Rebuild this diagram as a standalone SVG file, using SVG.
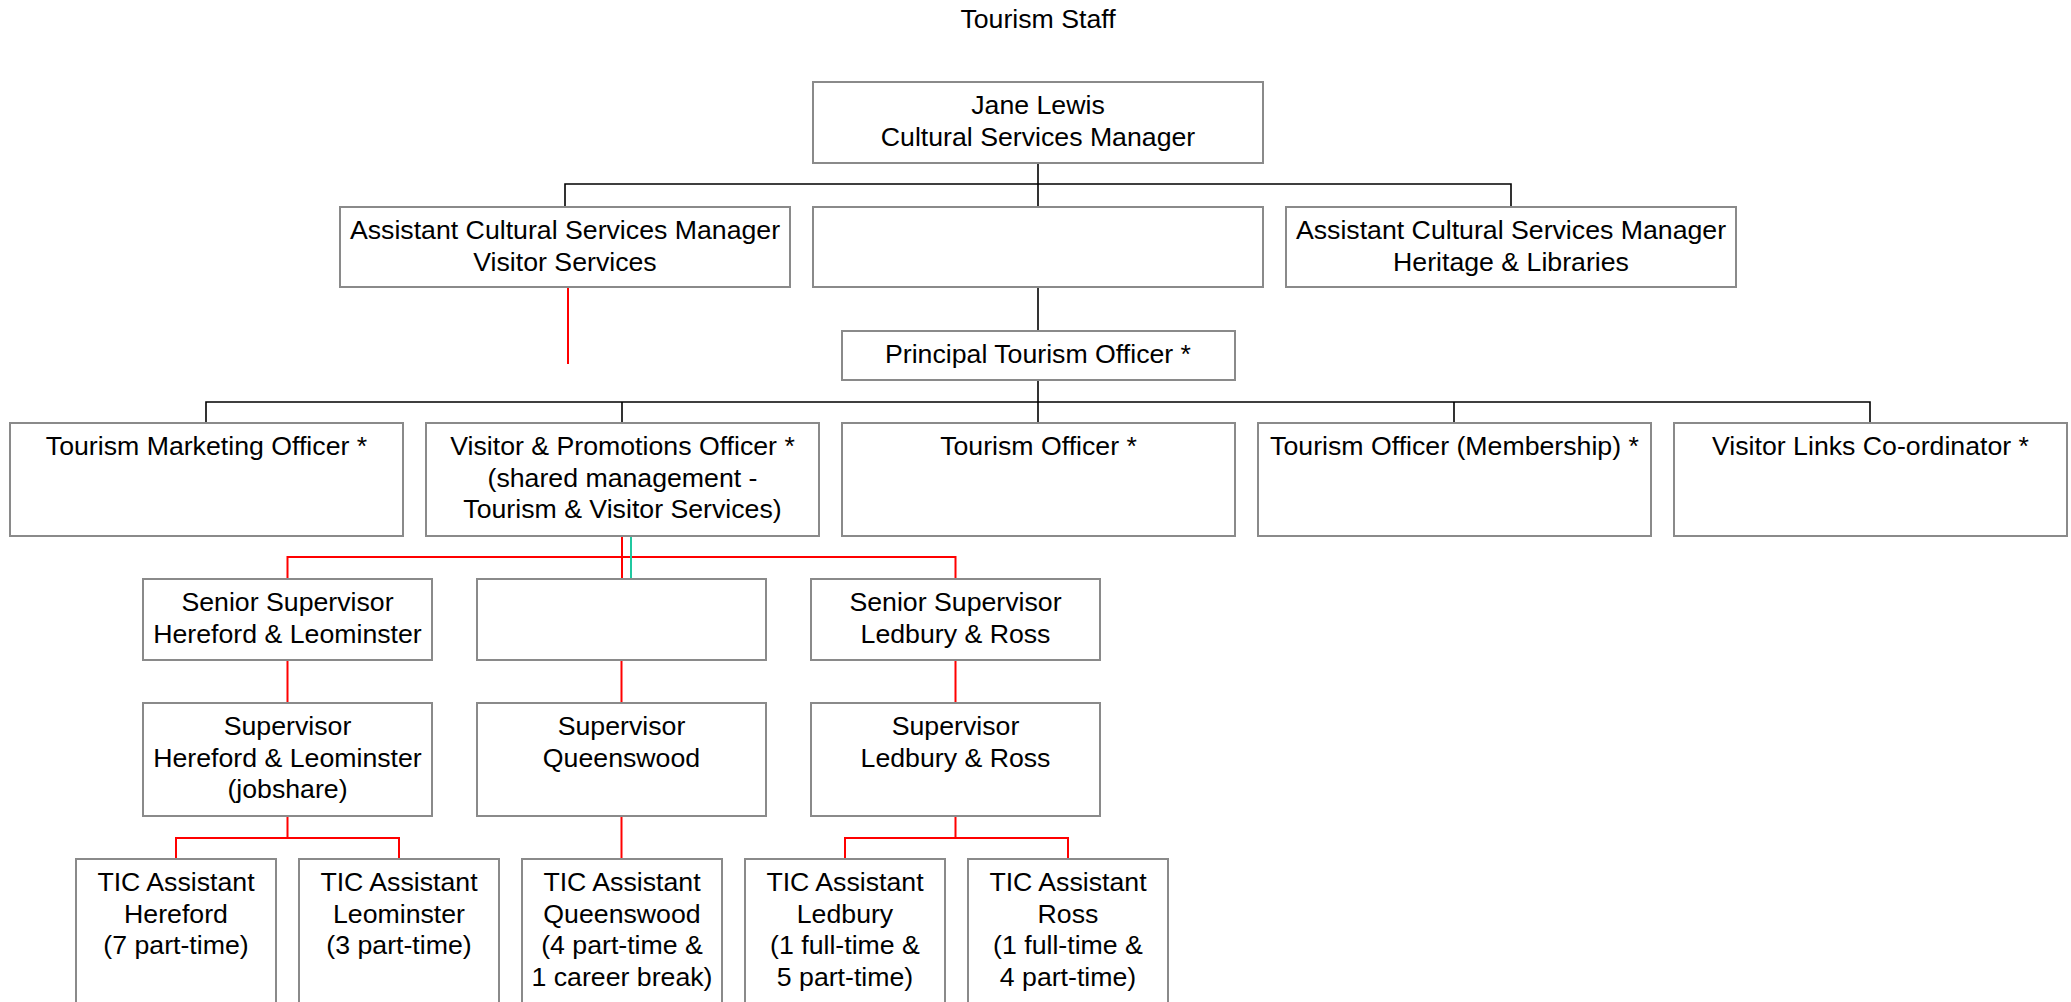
<svg xmlns="http://www.w3.org/2000/svg" width="2071" height="1002" viewBox="0 0 2071 1002">
<style>
.box{fill:#ffffff;stroke:#8a8a8a;stroke-width:2}
text{font-family:"Liberation Sans",Arial,sans-serif;font-size:26.7px;fill:#000000;text-anchor:middle}
.blk{stroke:#000000;stroke-width:1.6;fill:none}
.red{stroke:#ff0000;stroke-width:2;fill:none}
.teal{stroke:#20c8a0;stroke-width:2;fill:none}
</style>
<rect x="0" y="0" width="2071" height="1002" fill="#ffffff"/>
<text x="1038" y="28">Tourism Staff</text>
<g id="connectors">
<path class="blk" d="M1038,163 V184 M565,207 V184 H1511 V207 M1038,184 V207"/>
<path class="blk" d="M1038,287 V331"/>
<path class="blk" d="M1038,380 V402 M206,423 V402 H1870 V423 M622,402 V423 M1038,402 V423 M1454,402 V423"/>
<path class="red" d="M568,287 V364"/>
<path class="red" d="M622,536 V579 M287.5,579 V557 H955.5 V579"/>
<path class="teal" d="M631,536 V579"/>
<path class="red" d="M287.5,660 V703 M621.5,660 V703 M955.5,660 V703"/>
<path class="red" d="M287.5,816 V838 M176,859 V838 H399 V859"/>
<path class="red" d="M621.5,816 V859"/>
<path class="red" d="M955.5,816 V838 M845,859 V838 H1068 V859"/>
</g>
<g id="jane"><rect class="box" x="813" y="82" width="450" height="81"/><text x="1038" y="114">Jane Lewis</text><text x="1038" y="146">Cultural Services Manager</text></g>
<g id="acsm-visitor"><rect class="box" x="340" y="207" width="450" height="80"/><text x="565" y="239">Assistant Cultural Services Manager</text><text x="565" y="271">Visitor Services</text></g>
<g id="blank-mid"><rect class="box" x="813" y="207" width="450" height="80"/></g>
<g id="acsm-heritage"><rect class="box" x="1286" y="207" width="450" height="80"/><text x="1511" y="239">Assistant Cultural Services Manager</text><text x="1511" y="271">Heritage &amp; Libraries</text></g>
<g id="principal"><rect class="box" x="842" y="331" width="393" height="49"/><text x="1038" y="363">Principal Tourism Officer *</text></g>
<g id="marketing"><rect class="box" x="10" y="423" width="393" height="113"/><text x="206.5" y="455">Tourism Marketing Officer *</text></g>
<g id="vpo"><rect class="box" x="426" y="423" width="393" height="113"/><text x="622.5" y="455">Visitor &amp; Promotions Officer *</text><text x="622.5" y="487">(shared management -</text><text x="622.5" y="518">Tourism &amp; Visitor Services)</text></g>
<g id="tourism-officer"><rect class="box" x="842" y="423" width="393" height="113"/><text x="1038.5" y="455">Tourism Officer *</text></g>
<g id="membership"><rect class="box" x="1258" y="423" width="393" height="113"/><text x="1454.5" y="455">Tourism Officer (Membership) *</text></g>
<g id="visitor-links"><rect class="box" x="1674" y="423" width="393" height="113"/><text x="1870.5" y="455">Visitor Links Co-ordinator *</text></g>
<g id="senior-hl"><rect class="box" x="143" y="579" width="289" height="81"/><text x="287.5" y="611">Senior Supervisor</text><text x="287.5" y="643">Hereford &amp; Leominster</text></g>
<g id="blank-q"><rect class="box" x="477" y="579" width="289" height="81"/></g>
<g id="senior-lr"><rect class="box" x="811" y="579" width="289" height="81"/><text x="955.5" y="611">Senior Supervisor</text><text x="955.5" y="643">Ledbury &amp; Ross</text></g>
<g id="sup-hl"><rect class="box" x="143" y="703" width="289" height="113"/><text x="287.5" y="735">Supervisor</text><text x="287.5" y="767">Hereford &amp; Leominster</text><text x="287.5" y="798">(jobshare)</text></g>
<g id="sup-q"><rect class="box" x="477" y="703" width="289" height="113"/><text x="621.5" y="735">Supervisor</text><text x="621.5" y="767">Queenswood</text></g>
<g id="sup-lr"><rect class="box" x="811" y="703" width="289" height="113"/><text x="955.5" y="735">Supervisor</text><text x="955.5" y="767">Ledbury &amp; Ross</text></g>
<g id="tic-hereford"><rect class="box" x="76" y="859" width="200" height="170"/><text x="176" y="891">TIC Assistant</text><text x="176" y="923">Hereford</text><text x="176" y="954">(7 part-time)</text></g>
<g id="tic-leominster"><rect class="box" x="299" y="859" width="200" height="170"/><text x="399" y="891">TIC Assistant</text><text x="399" y="923">Leominster</text><text x="399" y="954">(3 part-time)</text></g>
<g id="tic-queenswood"><rect class="box" x="522" y="859" width="200" height="170"/><text x="622" y="891">TIC Assistant</text><text x="622" y="923">Queenswood</text><text x="622" y="954">(4 part-time &amp;</text><text x="622" y="986">1 career break)</text></g>
<g id="tic-ledbury"><rect class="box" x="745" y="859" width="200" height="170"/><text x="845" y="891">TIC Assistant</text><text x="845" y="923">Ledbury</text><text x="845" y="954">(1 full-time &amp;</text><text x="845" y="986">5 part-time)</text></g>
<g id="tic-ross"><rect class="box" x="968" y="859" width="200" height="170"/><text x="1068" y="891">TIC Assistant</text><text x="1068" y="923">Ross</text><text x="1068" y="954">(1 full-time &amp;</text><text x="1068" y="986">4 part-time)</text></g>
</svg>
